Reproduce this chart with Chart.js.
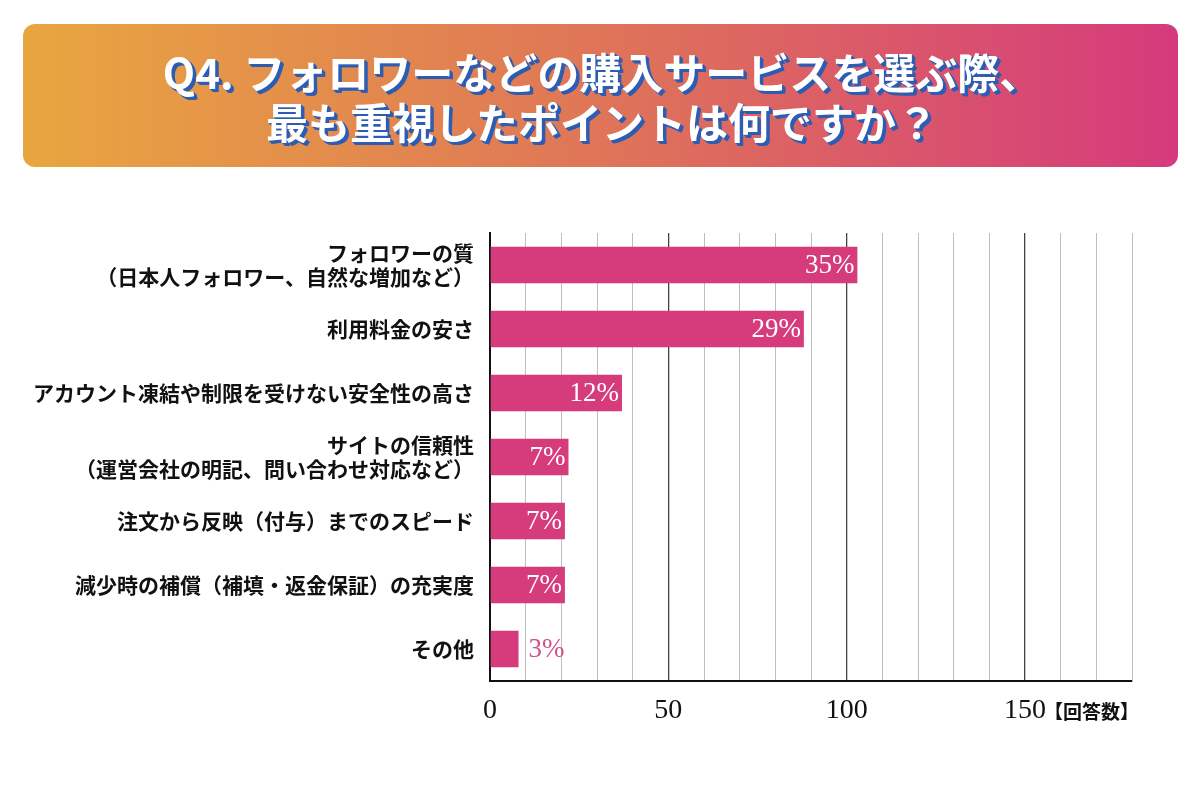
<!DOCTYPE html>
<html>
<head>
<meta charset="utf-8">
<script src="https://cdn.jsdelivr.net/npm/chart.js@4"></script>
<style>
html,body{margin:0;padding:0;background:#fff;}
#wrap{width:1200px;height:810px;position:relative;}
</style>
</head>
<body>
<div id="wrap"><canvas id="c" width="1200" height="810"></canvas></div>
<script>
const titleLines = ['Q4. フォロワーなどの購入サービスを選ぶ際、', '最も重視したポイントは何ですか？'];
const categories = [
  ['フォロワーの質', '（日本人フォロワー、自然な増加など）'],
  '利用料金の安さ',
  'アカウント凍結や制限を受けない安全性の高さ',
  ['サイトの信頼性', '（運営会社の明記、問い合わせ対応など）'],
  '注文から反映（付与）までのスピード',
  '減少時の補償（補填・返金保証）の充実度',
  'その他'
];
const responses = [103, 88, 37, 22, 21, 21, 8];
const percentLabels = ['35%', '29%', '12%', '7%', '7%', '7%', '3%'];
const xTickLabels = [0, 50, 100, 150];
const axisUnit = '【回答数】';

const PINK = '#d63b7b';
const JP = '"Noto Sans CJK JP", "Noto Sans", sans-serif';
const SERIF = '"Liberation Serif", "DejaVu Serif", serif';

const bannerPlugin = {
  id: 'banner',
  beforeDraw(chart) {
    const ctx = chart.ctx;
    ctx.save();
    const x = 23, y = 24, w = 1155, h = 143, r = 12;
    const g = ctx.createLinearGradient(x, 0, x + w, 0);
    g.addColorStop(0, '#e8a63f');
    g.addColorStop(0.5, '#df7558');
    g.addColorStop(1, '#d53a7c');
    ctx.fillStyle = g;
    ctx.beginPath();
    ctx.roundRect(x, y, w, h, r);
    ctx.fill();
    ctx.font = 'bold 42px ' + JP;
    ctx.textAlign = 'center';
    ctx.textBaseline = 'middle';
    const ys = [73, 123];
    titleLines.forEach((t, i) => {
      ctx.fillStyle = '#2d5db3';
      for (let d = 1; d <= 3.5; d += 0.5) ctx.fillText(t, 602 + d, ys[i] + d);
      ctx.fillStyle = '#ffffff';
      ctx.fillText(t, 602, ys[i]);
    });
    ctx.restore();
  }
};

const labelPlugin = {
  id: 'barLabels',
  afterDatasetsDraw(chart) {
    const ctx = chart.ctx;
    const meta = chart.getDatasetMeta(0);
    ctx.save();
    ctx.font = '27px ' + SERIF;
    ctx.textBaseline = 'middle';
    meta.data.forEach((bar, i) => {
      const txt = percentLabels[i];
      if (responses[i] >= 15) {
        ctx.fillStyle = '#ffffff';
        ctx.textAlign = 'right';
        ctx.fillText(txt, bar.x - 3, bar.y + 1);
      } else {
        ctx.fillStyle = '#d2508a';
        ctx.textAlign = 'left';
        ctx.fillText(txt, bar.x + 10, bar.y + 1);
      }
    });
    const xs = chart.scales.x;
    ctx.fillStyle = '#111';
    ctx.textAlign = 'left';
    ctx.font = 'bold 19px ' + JP;
    ctx.fillText(axisUnit, xs.getPixelForValue(150) + 19, 712);
    ctx.restore();
  }
};

new Chart(document.getElementById('c'), {
  type: 'bar',
  data: {
    labels: categories,
    datasets: [{
      data: responses,
      backgroundColor: PINK,
      borderWidth: 0,
      barPercentage: 0.57,
      categoryPercentage: 1.0
    }]
  },
  options: {
    indexAxis: 'y',
    responsive: false,
    animation: false,
    devicePixelRatio: 1,
    layout: { padding: { top: 233, right: 68, left: 0, bottom: 0 } },
    plugins: { legend: { display: false }, tooltip: { enabled: false } },
    scales: {
      x: {
        min: 0, max: 180,
        afterFit(s) { s.height = 129; },
        afterBuildTicks(s) {
          const t = [];
          for (let v = 0; v <= 180; v += 10) t.push({ value: v });
          s.ticks = t;
        },
        ticks: {
          autoSkip: false, maxRotation: 0,
          padding: 13,
          color: '#111',
          font: { family: SERIF, size: 28 },
          callback: v => xTickLabels.includes(v) ? String(v) : ''
        },
        grid: {
          drawTicks: false,
          color: c => (c.tick && c.tick.value % 50 === 0) ? '#444' : '#bdbdbd',
          lineWidth: c => (c.tick && c.tick.value % 50 === 0) ? 1.3 : 1
        },
        border: { display: true, color: '#111', width: 2 }
      },
      y: {
        afterFit(s) { s.width = 490; },
        ticks: {
          padding: 16,
          color: '#111',
          font: { family: JP, size: 21, weight: 'bold', lineHeight: 1.1 }
        },
        grid: { display: false, drawTicks: false },
        border: { display: true, color: '#111', width: 2 }
      }
    }
  },
  plugins: [bannerPlugin, labelPlugin]
});
</script>
</body>
</html>
